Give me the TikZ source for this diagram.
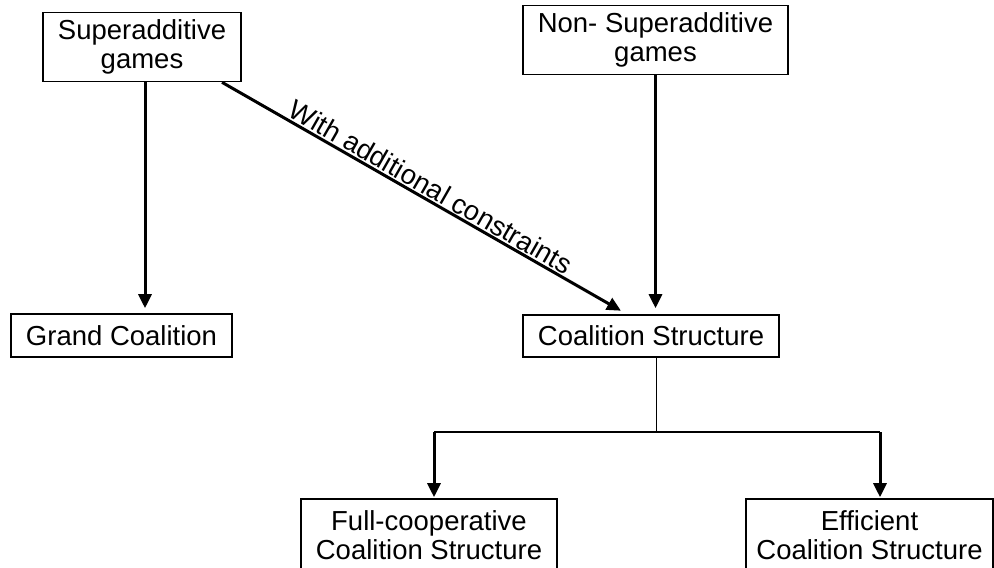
\documentclass[tikz,border=0pt]{standalone}
\usepackage{fontspec}
\setmainfont{Liberation Sans}
\usetikzlibrary{arrows.meta}
\begin{document}
\begin{tikzpicture}[x=1pt,y=-1pt,
  box/.style={draw, line width=1.6pt, inner sep=0pt, align=center, font=\fontsize{27.5}{28.5}\selectfont},
  arr/.style={line width=3pt, -{Triangle[length=14pt,width=13pt]}},
  thinline/.style={line width=1.6pt},
  lbl/.style={font=\fontsize{27.5}{28.5}\selectfont, inner sep=1.5pt}]
\useasboundingbox (0,0) rectangle (994,568);
\clip (0,0) rectangle (994,568);

\node[box, minimum width=198pt, minimum height=69pt] (sup) at (142,47) {Superadditive\\games};
\node[box, minimum width=265pt, minimum height=69pt] (non) at (655.5,40) {Non- Superadditive\\games};
\node[box, minimum width=221pt, minimum height=43pt] (grand) at (121.5,335.5) {Grand Coalition};
\node[box, minimum width=256pt, minimum height=42pt] (cs) at (651,336) {Coalition Structure};
\node[box, minimum width=256pt, minimum height=72pt] (full) at (429,535) {Full-cooperative\\Coalition Structure};
\node[box, minimum width=247pt, minimum height=72pt] (eff) at (869.5,535) {Efficient\\Coalition Structure};

\coordinate (j) at (656.5,432);
\coordinate (jl) at (434,432);
\coordinate (jr) at (880,432);

\draw[arr, shorten >=5pt] ([xshift=3pt]sup.south) -- ([xshift=3pt]sup.south |- grand.north);
\draw[arr, shorten >=7pt] ([xshift=80pt]sup.south) -- node[lbl, midway, sloped, above] {With additional constraints} ([xshift=-24pt]cs.north);
\draw[arr, shorten >=6pt] (non.south) -- (non.south |- cs.north);
\draw[thinline] ([xshift=5.5pt]cs.south) -- (j);
\draw[thinline] (jl) -- (jr);
\draw[arr, shorten >=1pt] (jl) -- (jl |- full.north);
\draw[arr, shorten >=1pt] (jr) -- (jr |- eff.north);
\end{tikzpicture}
\end{document}
